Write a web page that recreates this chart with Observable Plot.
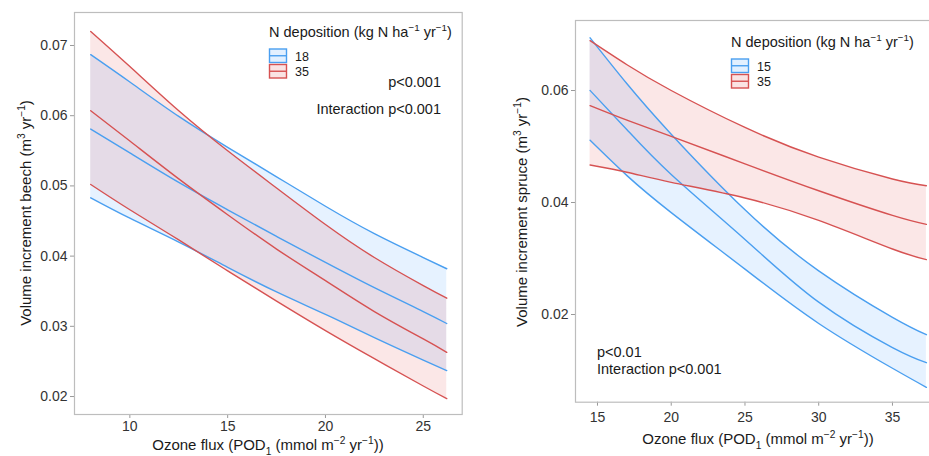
<!DOCTYPE html>
<html>
<head>
<meta charset="utf-8">
<script src="https://cdn.jsdelivr.net/npm/d3@7"></script>
<script src="https://cdn.jsdelivr.net/npm/@observablehq/plot@0.6"></script>
<style>
  html, body { margin: 0; padding: 0; background: #fff; overflow: hidden; width: 929px; height: 456px; }
  #wrap { position: relative; width: 929px; height: 456px; overflow: hidden; }
  #left { position: absolute; left: 0; top: 0; width: 470px; height: 456px; }
  #right { position: absolute; left: 470px; top: 0; width: 480px; height: 456px; }
  svg { display: block; }
</style>
</head>
<body>
<div id="wrap"><div id="left"></div><div id="right"></div></div>
<script>
// ---------------- Data: beech (left panel) ----------------
const beechX = [8, 10, 12.5, 15, 17.5, 20, 22.5, 25, 26.2];
const beech18Upper = [0.0687, 0.0648, 0.0599, 0.0555, 0.0513, 0.0471, 0.0432, 0.0398, 0.0382];
const beech18Fit   = [0.0581, 0.0547, 0.0505, 0.0466, 0.0428, 0.0391, 0.0355, 0.0321, 0.0304];
const beech18Lower = [0.0483, 0.0454, 0.0420, 0.0384, 0.0349, 0.0317, 0.0284, 0.0252, 0.0237];
const beech35Upper = [0.0720, 0.0670, 0.0607, 0.0550, 0.0497, 0.0445, 0.0398, 0.0358, 0.0340];
const beech35Fit   = [0.0607, 0.0564, 0.0510, 0.0459, 0.0410, 0.0365, 0.0321, 0.0282, 0.0263];
const beech35Lower = [0.0502, 0.0466, 0.0423, 0.0379, 0.0336, 0.0294, 0.0254, 0.0215, 0.0197];
const beechXTicks = [10, 15, 20, 25];
const beechYTicks = [0.02, 0.03, 0.04, 0.05, 0.06, 0.07];
const beechLegend = ["18", "35"];

// ---------------- Data: spruce (right panel) ----------------
const spruceX = [14.5, 17, 20, 25, 30, 35, 37.3];
const spruce15Upper = [0.0694, 0.0612, 0.0522, 0.0387, 0.0278, 0.0195, 0.0164];
const spruce15Fit   = [0.0600, 0.0530, 0.0450, 0.0334, 0.0222, 0.0141, 0.0114];
const spruce15Lower = [0.0511, 0.0448, 0.0382, 0.0281, 0.0184, 0.0104, 0.0070];
const spruce35Upper = [0.0689, 0.0646, 0.0600, 0.0534, 0.0481, 0.0442, 0.0430];
const spruce35Fit   = [0.0573, 0.0547, 0.0518, 0.0469, 0.0421, 0.0377, 0.0361];
const spruce35Lower = [0.0467, 0.0454, 0.0436, 0.0408, 0.0368, 0.0317, 0.0298];
const spruceXTicks = [15, 20, 25, 30, 35];
const spruceYTicks = [0.02, 0.04, 0.06];
const spruceLegend = ["15", "35"];

// ---------------- Style ----------------
const FONT = "'Liberation Sans', Arial, Helvetica, sans-serif";
const BLUE = "#4a9ff0", RED = "#d65252";
const BLUE_FILL = "#3d9bff", RED_FILL = "#e04646";
const FILL_OP = 0.13;
const CURVE = "natural";

function rows(xs, lo, fit, hi) {
  return xs.map((x, i) => ({x, lo: lo[i], fit: fit[i], hi: hi[i]}));
}

function bandMarks(data, fill) {
  return [
    Plot.areaY(data, {x: "x", y1: "lo", y2: "hi", fill, fillOpacity: FILL_OP, curve: CURVE})
  ];
}
function lineMarks(data, line) {
  return ["lo", "fit", "hi"].map(k =>
    Plot.line(data, {x: "x", y: k, stroke: line, strokeWidth: 1.4, curve: CURVE}));
}

function makePanel({xDomain, yDomain, xTicks, yTicks, width, marginLeft, marginRight, marginTop, marginBottom, tickPadX, low, high}) {
  return Plot.plot({
    width, height: 456, marginLeft, marginRight, marginTop, marginBottom,
    style: {fontFamily: FONT, fontSize: "14px", color: "#333", background: "transparent", maxWidth: "none", overflow: "visible"},
    x: {domain: xDomain, ticks: xTicks, tickSize: 4, tickPadding: tickPadX, label: null},
    y: {domain: yDomain, ticks: yTicks, tickSize: 4, tickPadding: 3, tickFormat: d3.format(".2f"), label: null},
    marks: [
      ...bandMarks(low, BLUE_FILL),
      ...bandMarks(high, RED_FILL),
      ...lineMarks(low, BLUE),
      ...lineMarks(high, RED),
      Plot.frame({stroke: "#bdbdbd", strokeWidth: 1.2})
    ]
  });
}

function greyTicks(svg) {
  svg.selectAll('g[aria-label="x-axis tick"], g[aria-label="y-axis tick"]').attr("stroke", "#999");
  svg.selectAll('g[aria-label="x-axis"] .tick line, g[aria-label="y-axis"] .tick line').attr("stroke", "#999");
}

function addText(svg, {x, y, parts, size = 15, anchor = "start", rotate = 0, fill = "#1a1a1a"}) {
  const t = svg.append("text")
    .attr("transform", `translate(${x},${y})` + (rotate ? ` rotate(${rotate})` : ""))
    .attr("text-anchor", anchor)
    .attr("font-family", FONT)
    .attr("font-size", size)
    .attr("fill", fill)
    .attr("y", 0.36 * size);
  let shift = 0;
  for (const p of parts) {
    if (typeof p === "string") {
      t.append("tspan").attr("dy", -shift).text(p);
      shift = 0;
    } else {
      const s = p.sup ? -0.42 * size : 0.3 * size;
      t.append("tspan").attr("font-size", size * 0.68).attr("dy", s - shift).text(p.t);
      shift = s;
    }
  }
  return t;
}

function addLegend(svg, {x, y, labels}) {
  addText(svg, {x, y, size: 14.5, parts: ["N deposition (kg N ha", {sup: 1, t: "\u22121"}, " yr", {sup: 1, t: "\u22121"}, ")"]});
  const cols = [[BLUE, BLUE_FILL], [RED, RED_FILL]];
  labels.forEach((lab, i) => {
    const by = y + 17 + i * 15.5;
    svg.append("rect").attr("x", x + 0.5).attr("y", by).attr("width", 17).attr("height", 13.5)
      .attr("fill", cols[i][1]).attr("fill-opacity", 0.15)
      .attr("stroke", cols[i][0]).attr("stroke-width", 1.4);
    svg.append("line").attr("x1", x + 0.5).attr("x2", x + 17.5).attr("y1", by + 6.75).attr("y2", by + 6.75)
      .attr("stroke", cols[i][0]).attr("stroke-width", 1.4);
    addText(svg, {x: x + 26, y: by + 7, size: 12.5, parts: [lab]});
  });
}

// ---------------- Left panel: beech ----------------
const left = makePanel({
  xDomain: [7.17, 26.99], yDomain: [0.01744, 0.0747],
  xTicks: beechXTicks, yTicks: beechYTicks,
  width: 470, marginLeft: 74, marginRight: 8.3, marginTop: 12, marginBottom: 42, tickPadX: 3,
  low: rows(beechX, beech18Lower, beech18Fit, beech18Upper),
  high: rows(beechX, beech35Lower, beech35Fit, beech35Upper)
});
document.getElementById("left").appendChild(left);
{
  const svg = d3.select(left);
  greyTicks(svg);
  addText(svg, {x: 26, y: 213, rotate: -90, anchor: "middle", size: 15,
    parts: ["Volume increment beech (m", {sup: 1, t: "3"}, " yr", {sup: 1, t: "\u22121"}, ")"]});
  addText(svg, {x: 268, y: 445, anchor: "middle", size: 15,
    parts: ["Ozone flux (POD", {sub: 1, t: "1"}, " (mmol m", {sup: 1, t: "\u22122"}, " yr", {sup: 1, t: "\u22121"}, "))"]});
  addLegend(svg, {x: 269, y: 32, labels: beechLegend});
  addText(svg, {x: 441, y: 82, anchor: "end", size: 14.5, parts: ["p<0.001"]});
  addText(svg, {x: 441, y: 109, anchor: "end", size: 14.5, parts: ["Interaction p<0.001"]});
}

// ---------------- Right panel: spruce ----------------
const right = makePanel({
  xDomain: [13.51, 38.44], yDomain: [0.00434, 0.0725],
  xTicks: spruceXTicks, yTicks: spruceYTicks,
  width: 480, marginLeft: 105, marginRight: 7.3, marginTop: 20, marginBottom: 54.3, tickPadX: 6,
  low: rows(spruceX, spruce15Lower, spruce15Fit, spruce15Upper),
  high: rows(spruceX, spruce35Lower, spruce35Fit, spruce35Upper)
});
document.getElementById("right").appendChild(right);
{
  const svg = d3.select(right);
  greyTicks(svg);
  addText(svg, {x: 52, y: 212, rotate: -90, anchor: "middle", size: 15,
    parts: ["Volume increment spruce (m", {sup: 1, t: "3"}, " yr", {sup: 1, t: "\u22121"}, ")"]});
  addText(svg, {x: 288, y: 439, anchor: "middle", size: 15,
    parts: ["Ozone flux (POD", {sub: 1, t: "1"}, " (mmol m", {sup: 1, t: "\u22122"}, " yr", {sup: 1, t: "\u22121"}, "))"]});
  addLegend(svg, {x: 261, y: 42, labels: spruceLegend});
  addText(svg, {x: 127, y: 352, size: 14.5, parts: ["p<0.01"]});
  addText(svg, {x: 127, y: 369, size: 14.5, parts: ["Interaction p<0.001"]});
}
</script>
</body>
</html>
